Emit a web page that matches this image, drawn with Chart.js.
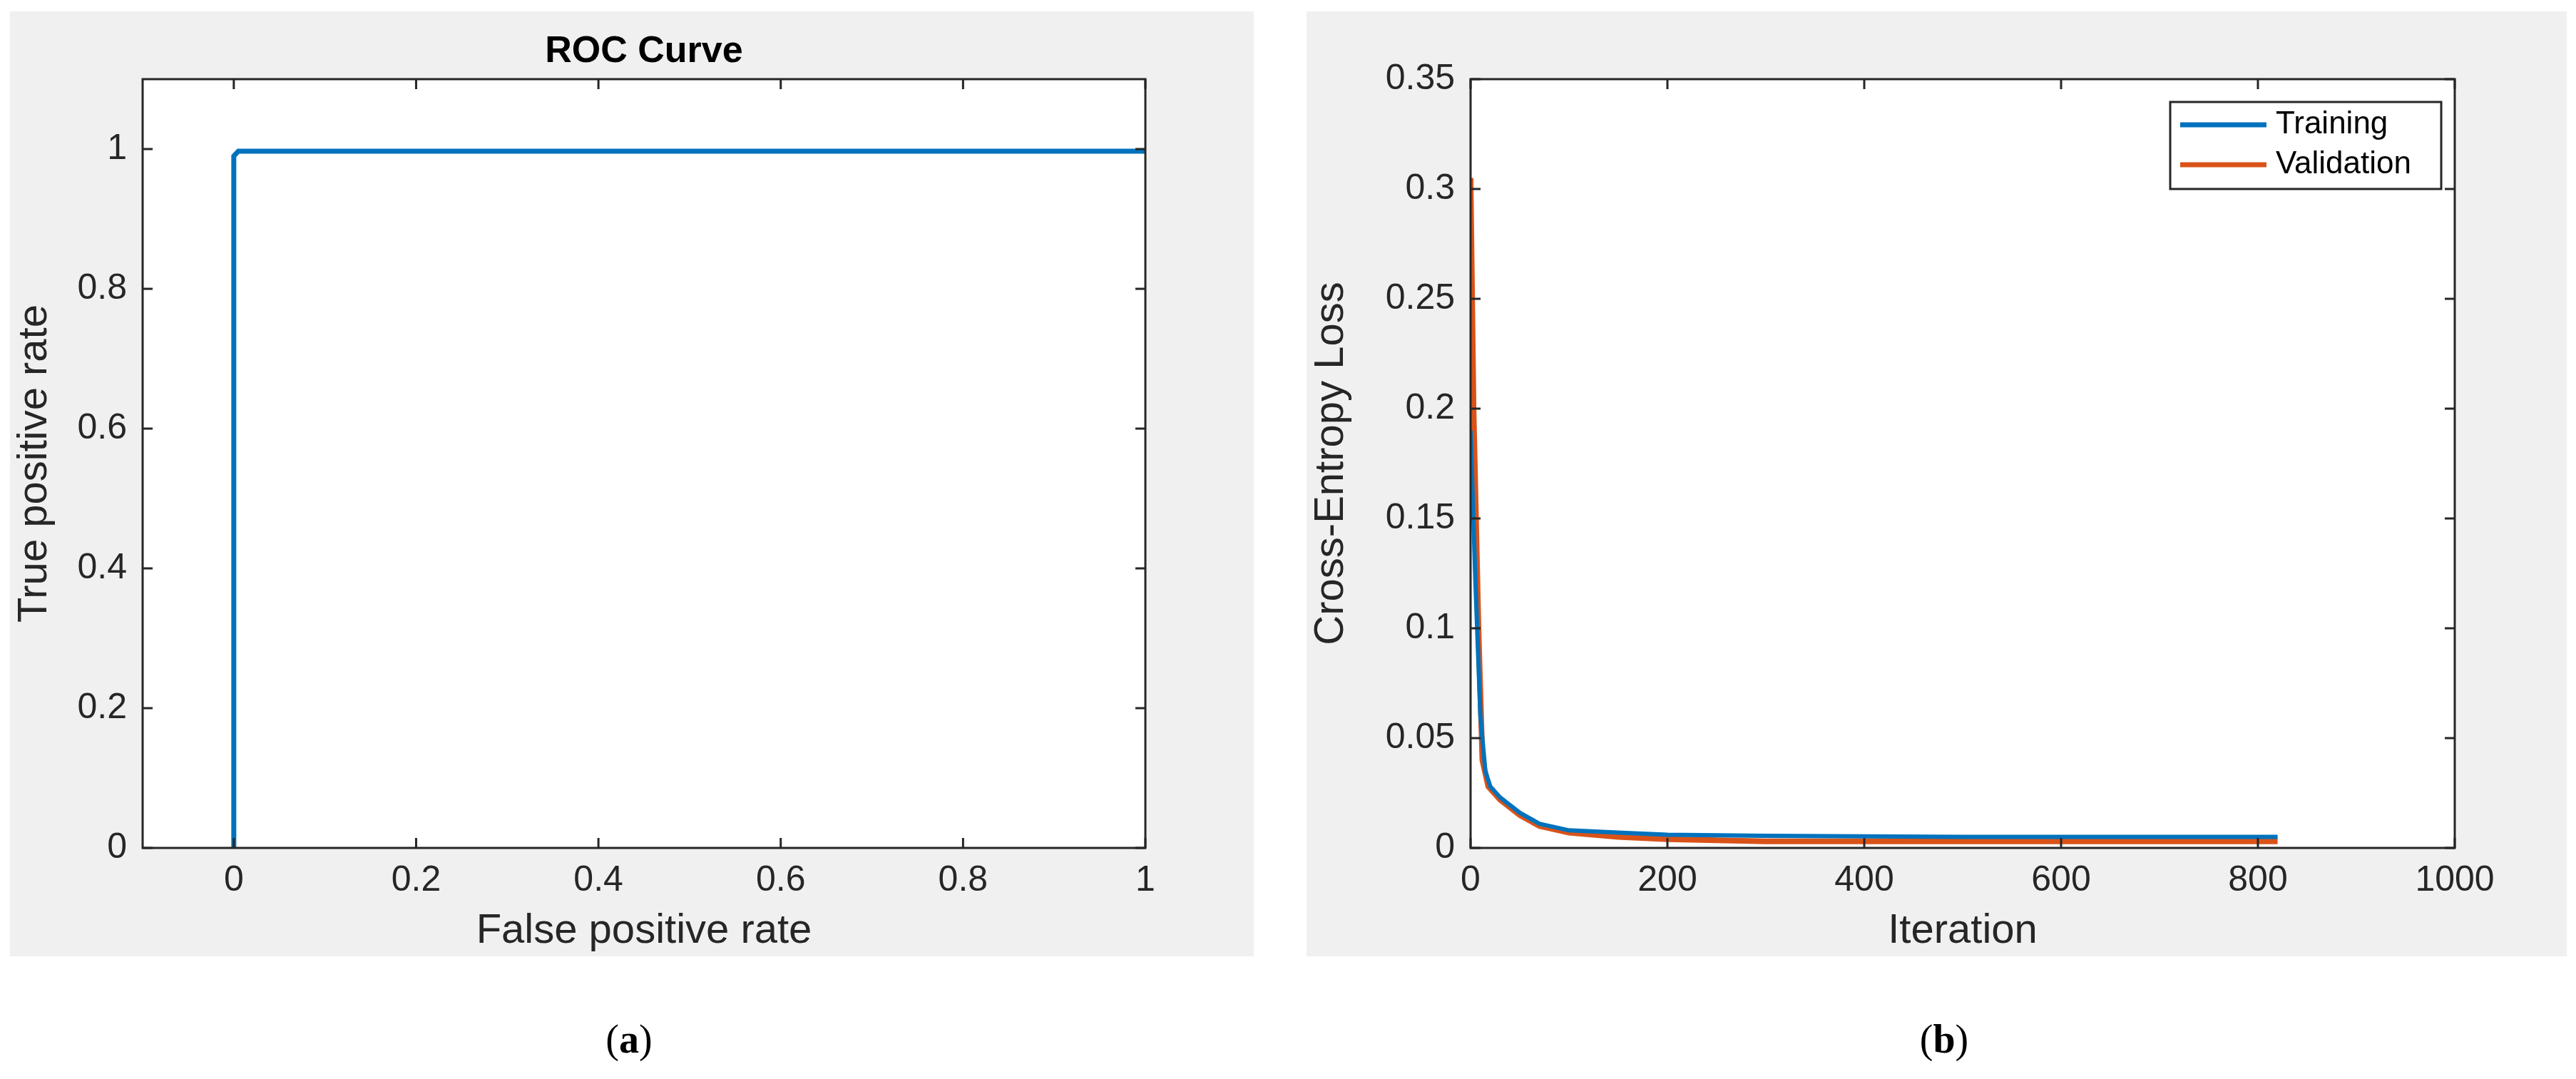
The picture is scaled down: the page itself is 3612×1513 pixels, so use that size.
<!DOCTYPE html>
<html>
<head>
<meta charset="utf-8">
<script src="https://cdn.jsdelivr.net/npm/chart.js@4"></script>
<style>
  body { margin: 0; background: #fff; width: 3612px; height: 1513px; position: relative; overflow: hidden; }
  .panel { position: absolute; background: #f0f0f0; }
  .cap { position: absolute; font-family: "Liberation Serif", serif; font-size: 56px; color: #000; transform: translateX(-50%); }
</style>
</head>
<body>
<div class="panel" style="left:14px;top:16px;width:1744px;height:1325px"><canvas id="roc"></canvas></div>
<div class="panel" style="left:1832px;top:16px;width:1767px;height:1325px"><canvas id="loss"></canvas></div>
<div class="cap" style="left:882px;top:1425px">(<b>a</b>)</div>
<div class="cap" style="left:2726px;top:1425px">(<b>b</b>)</div>
<script>
// ROC curve (a)
const rocFpr = [0, 0, 0.005, 1];
const rocTpr = [0, 0.99, 0.997, 0.997];

// loss curves (b)
const trainIter = [0, 5, 10, 15, 20, 30, 50, 70, 100, 150, 200, 300, 500, 820];
const trainLoss = [0.19, 0.12, 0.06, 0.035, 0.028, 0.023, 0.016, 0.011, 0.008, 0.007, 0.006, 0.0055, 0.005, 0.005];
const valIter = [0, 3, 8, 12, 18, 30, 50, 70, 100, 150, 200, 300, 500, 820];
const valLoss = [0.305, 0.2, 0.1, 0.04, 0.028, 0.022, 0.015, 0.01, 0.007, 0.005, 0.004, 0.003, 0.003, 0.003];

const blue = "#0072BD";
const orange = "#D95319";
const textCol = "#262626";
const font = "'Liberation Sans', Arial, sans-serif";

Chart.defaults.font.family = font;
Chart.defaults.color = textCol;
Chart.defaults.animation = false;
Chart.defaults.devicePixelRatio = 1;

function pts(xs, ys) { return xs.map((x, i) => ({ x: x, y: ys[i] })); }

// white axes area, MATLAB-ish box with inward ticks on all four sides
const boxPlugin = {
  id: "box",
  beforeDatasetsDraw(chart) {
    const { ctx, chartArea: a } = chart;
    ctx.save();
    ctx.fillStyle = "#fff";
    ctx.fillRect(a.left, a.top, a.right - a.left, a.bottom - a.top);
    ctx.restore();
  },
  afterDatasetsDraw(chart, args, opts) {
    const { ctx, chartArea: a, scales } = chart;
    ctx.save();
    ctx.strokeStyle = textCol;
    ctx.lineWidth = 3;
    ctx.strokeRect(a.left, a.top, a.right - a.left, a.bottom - a.top);
    const t = 14;
    ctx.beginPath();
    scales.x.ticks.forEach(tk => {
      const px = scales.x.getPixelForValue(tk.value);
      ctx.moveTo(px, a.bottom); ctx.lineTo(px, a.bottom - t);
      ctx.moveTo(px, a.top); ctx.lineTo(px, a.top + t);
    });
    scales.y.ticks.forEach(tk => {
      const py = scales.y.getPixelForValue(tk.value);
      ctx.moveTo(a.left, py); ctx.lineTo(a.left + t, py);
      ctx.moveTo(a.right, py); ctx.lineTo(a.right - t, py);
    });
    ctx.stroke();
    if (opts.title) {
      ctx.fillStyle = "#000";
      ctx.font = "bold 52px " + font;
      ctx.textAlign = "center";
      ctx.textBaseline = "bottom";
      ctx.fillText(opts.title, (a.left + a.right) / 2, a.top - 12);
    }
    if (opts.legend) {
      const L = opts.legend;
      ctx.fillStyle = "#fff";
      ctx.fillRect(L.x, L.y, L.w, L.h);
      ctx.lineWidth = 3;
      ctx.strokeRect(L.x, L.y, L.w, L.h);
      ctx.font = "44px " + font;
      ctx.textAlign = "left";
      ctx.textBaseline = "middle";
      chart.data.datasets.forEach((ds, i) => {
        const yy = L.y + 32 + i * 56;
        ctx.strokeStyle = ds.borderColor;
        ctx.lineWidth = 7;
        ctx.beginPath(); ctx.moveTo(L.x + 14, yy); ctx.lineTo(L.x + 135, yy); ctx.stroke();
        ctx.fillStyle = "#000";
        ctx.fillText(ds.label, L.x + 148, yy);
      });
    }
    ctx.restore();
  }
};

function makeOptions(xs, ys, yw, title, xTitle, yTitle, padRight, legend) {
  return {
    responsive: true,
    maintainAspectRatio: false,
    layout: { padding: { top: 95, right: padRight, left: 0, bottom: 0 } },
    plugins: { legend: { display: false }, tooltip: { enabled: false }, box: { title: title, legend: legend } },
    elements: { point: { radius: 0 }, line: { borderWidth: 7, tension: 0 } },
    scales: {
      x: {
        type: "linear", min: xs.min, max: xs.max,
        ticks: { stepSize: xs.step, font: { size: 50 }, color: textCol, padding: 8, maxRotation: 0,
          callback: v => Math.abs(v) < 1e-9 ? "0" : +v.toFixed(2) },
        afterBuildTicks: s => {
          const out = [];
          for (let v = xs.firstTick; v <= xs.max + 1e-9; v += xs.step) out.push({ value: +v.toFixed(6) });
          s.ticks = out;
        },
        grid: { display: false }, border: { display: false },
        title: { display: true, text: xTitle, font: { size: 58 }, color: textCol, padding: 0 },
        afterFit: s => { s.height = 152; }
      },
      y: {
        type: "linear", min: ys.min, max: ys.max,
        ticks: { stepSize: ys.step, font: { size: 50 }, color: textCol, padding: 14,
          callback: v => Math.abs(v) < 1e-9 ? "0" : +v.toFixed(2) },
        afterBuildTicks: s => { s.ticks = s.ticks.filter(t => t.value <= ys.lastTick + 1e-9); },
        grid: { display: false }, border: { display: false },
        title: { display: true, text: yTitle, font: { size: 58 }, color: textCol, padding: 0 },
        afterFit: s => { s.width = yw; }
      }
    }
  };
}

new Chart(document.getElementById("roc"), {
  type: "line",
  data: { datasets: [{ label: "ROC", data: pts(rocFpr, rocTpr), borderColor: blue }] },
  options: makeOptions({ min: -0.1, max: 1, step: 0.2, firstTick: 0 }, { min: 0, max: 1.1, step: 0.2, lastTick: 1 },
    186, "ROC Curve", "False positive rate", "True positive rate", 152, null),
  plugins: [boxPlugin]
});

new Chart(document.getElementById("loss"), {
  type: "line",
  data: { datasets: [
    { label: "Training", data: pts(trainIter, trainLoss), borderColor: blue, borderWidth: 6 },
    { label: "Validation", data: pts(valIter, valLoss), borderColor: orange, borderWidth: 8 }
  ] },
  options: makeOptions({ min: 0, max: 1000, step: 200, firstTick: 0 }, { min: 0, max: 0.35, step: 0.05, lastTick: 0.35 },
    230, null, "Iteration", "Cross-Entropy Loss", 157, { x: 1211, y: 127, w: 380, h: 122 }),
  plugins: [boxPlugin]
});
</script>
</body>
</html>
